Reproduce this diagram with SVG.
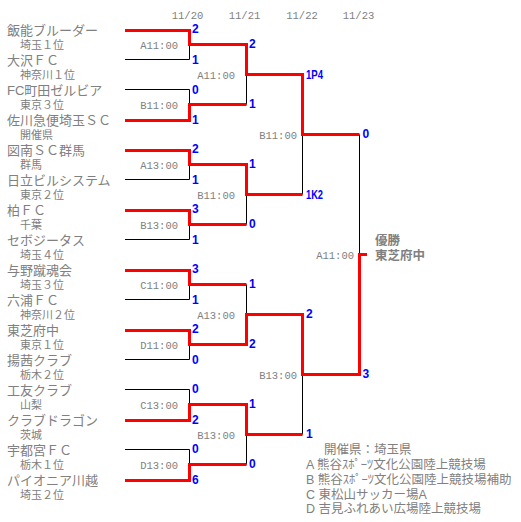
<svg xmlns="http://www.w3.org/2000/svg" width="521" height="522" viewBox="0 0 521 522">
<style>
.bg{fill:#ffffff}
.nm{font-family:"Liberation Sans","Noto Sans CJK JP",sans-serif;font-size:13px;fill:#808080}
.sb{font-family:"Liberation Sans","Noto Sans CJK JP",sans-serif;font-size:11px;fill:#808080}
.tm{font-family:"Liberation Mono",monospace;font-size:10.5px;fill:#808080;text-anchor:end}
.dt{font-family:"Liberation Mono",monospace;font-size:10.5px;fill:#808080;text-anchor:middle}
.sc{font-family:"Liberation Sans",sans-serif;font-size:12px;font-weight:bold;fill:#0000ff}
.win{fill:none;stroke:#ff0000;stroke-width:3;stroke-linejoin:miter}
.los{fill:none;stroke:#000000;stroke-width:1}
.wl{font-family:"Liberation Sans","Noto Sans CJK JP",sans-serif;font-size:12.5px;font-weight:bold;fill:#808080}
.lg{font-family:"Liberation Sans","Noto Sans CJK JP",sans-serif;font-size:12.5px;fill:#808080}
</style>
<rect class="bg" x="0" y="0" width="521" height="522"/>
<g id="dates">
<text class="dt" x="187.5" y="18.5">11/20</text>
<text class="dt" x="244.5" y="18.5">11/21</text>
<text class="dt" x="302" y="18.5">11/22</text>
<text class="dt" x="358.5" y="18.5">11/23</text>
</g>
<g id="teams">
<g id="t1"><text class="nm" x="7" y="35">飯能ブルーダー</text><text class="sb" x="20" y="49">埼玉１位</text></g>
<g id="t2"><text class="nm" x="7" y="65">大沢ＦＣ</text><text class="sb" x="20" y="79">神奈川１位</text></g>
<g id="t3"><text class="nm" x="7" y="95">FC町田ゼルビア</text><text class="sb" x="20" y="109">東京３位</text></g>
<g id="t4"><text class="nm" x="7" y="125">佐川急便埼玉ＳＣ</text><text class="sb" x="20" y="139">開催県</text></g>
<g id="t5"><text class="nm" x="7" y="155">図南ＳＣ群馬</text><text class="sb" x="20" y="169">群馬</text></g>
<g id="t6"><text class="nm" x="7" y="185">日立ビルシステム</text><text class="sb" x="20" y="199">東京２位</text></g>
<g id="t7"><text class="nm" x="7" y="215">柏ＦＣ</text><text class="sb" x="20" y="229">千葉</text></g>
<g id="t8"><text class="nm" x="7" y="245">セボジータス</text><text class="sb" x="20" y="259">埼玉４位</text></g>
<g id="t9"><text class="nm" x="7" y="275">与野蹴魂会</text><text class="sb" x="20" y="289">埼玉３位</text></g>
<g id="t10"><text class="nm" x="7" y="305">六浦ＦＣ</text><text class="sb" x="20" y="319">神奈川２位</text></g>
<g id="t11"><text class="nm" x="7" y="335">東芝府中</text><text class="sb" x="20" y="349">東京１位</text></g>
<g id="t12"><text class="nm" x="7" y="365">揚茜クラブ</text><text class="sb" x="20" y="379">栃木２位</text></g>
<g id="t13"><text class="nm" x="7" y="395">工友クラブ</text><text class="sb" x="20" y="409">山梨</text></g>
<g id="t14"><text class="nm" x="7" y="425">クラブドラゴン</text><text class="sb" x="20" y="439">茨城</text></g>
<g id="t15"><text class="nm" x="7" y="455">宇都宮ＦＣ</text><text class="sb" x="20" y="469">栃木１位</text></g>
<g id="t16"><text class="nm" x="7" y="485">パイオニア川越</text><text class="sb" x="20" y="499">埼玉２位</text></g>
</g>
<g id="connectors">
<path class="los" d="M125,59.5 H189.5 V44.5"/>
<path class="los" d="M125,89.5 H189.5 V104.5"/>
<path class="los" d="M125,179.5 H189.5 V164.5"/>
<path class="los" d="M125,239.5 H189.5 V224.5"/>
<path class="los" d="M125,299.5 H189.5 V284.5"/>
<path class="los" d="M125,359.5 H189.5 V344.5"/>
<path class="los" d="M125,389.5 H189.5 V404.5"/>
<path class="los" d="M125,449.5 H189.5 V464.5"/>
<path class="los" d="M246.5,104.5 V74.5"/>
<path class="los" d="M246.5,224.5 V194.5"/>
<path class="los" d="M246.5,284.5 V314.5"/>
<path class="los" d="M246.5,464.5 V434.5"/>
<path class="los" d="M302.5,194.5 V134.5"/>
<path class="los" d="M302.5,434.5 V374.5"/>
<path class="los" d="M359.5,134.5 V254.5"/>
<path class="win" d="M125,30.5 H189.5 V44.5 H246.5 V74.5 H302.5 V134.5 H359.5"/>
<path class="win" d="M125,120.5 H189.5 V104.5 H246.5"/>
<path class="win" d="M125,150.5 H189.5 V164.5 H246.5 V194.5 H302.5"/>
<path class="win" d="M125,210.5 H189.5 V224.5 H246.5"/>
<path class="win" d="M125,270.5 H189.5 V284.5 H246.5"/>
<path class="win" d="M125,330.5 H189.5 V344.5 H246.5 V314.5 H302.5 V374.5 H359.5 V254.5 H367"/>
<path class="win" d="M125,420.5 H189.5 V404.5 H246.5 V434.5 H302.5"/>
<path class="win" d="M125,480.5 H189.5 V464.5 H246.5"/>
</g>
<g id="matches">
<text class="tm" x="178" y="48.5">A11:00</text>
<text class="tm" x="178" y="108.5">B11:00</text>
<text class="tm" x="178" y="168.5">A13:00</text>
<text class="tm" x="178" y="228.5">B13:00</text>
<text class="tm" x="178" y="288.5">C11:00</text>
<text class="tm" x="178" y="348.5">D11:00</text>
<text class="tm" x="178" y="408.5">C13:00</text>
<text class="tm" x="178" y="468.5">D13:00</text>
<text class="tm" x="235" y="78.5">A11:00</text>
<text class="tm" x="235" y="198.5">B11:00</text>
<text class="tm" x="235" y="318.5">A13:00</text>
<text class="tm" x="235" y="438.5">B13:00</text>
<text class="tm" x="297" y="138.5">B11:00</text>
<text class="tm" x="297" y="378.5">B13:00</text>
<text class="tm" x="354" y="258.5">A11:00</text>
</g>
<g id="scores">
<text class="sc" x="192" y="33">2</text>
<text class="sc" x="192" y="64">1</text>
<text class="sc" x="192" y="94">0</text>
<text class="sc" x="192" y="124">1</text>
<text class="sc" x="192" y="153">2</text>
<text class="sc" x="192" y="184">1</text>
<text class="sc" x="192" y="213">3</text>
<text class="sc" x="192" y="244">1</text>
<text class="sc" x="192" y="273">3</text>
<text class="sc" x="192" y="304">1</text>
<text class="sc" x="192" y="333">2</text>
<text class="sc" x="192" y="364">0</text>
<text class="sc" x="192" y="393">0</text>
<text class="sc" x="192" y="424">2</text>
<text class="sc" x="192" y="453">0</text>
<text class="sc" x="192" y="484">6</text>
<text class="sc" x="249" y="48">2</text>
<text class="sc" x="249" y="108">1</text>
<text class="sc" x="249" y="168">1</text>
<text class="sc" x="249" y="228">0</text>
<text class="sc" x="249" y="288">1</text>
<text class="sc" x="249" y="348">2</text>
<text class="sc" x="249" y="408">1</text>
<text class="sc" x="249" y="468">0</text>
<text class="sc" x="306" y="78.5" textLength="17" lengthAdjust="spacingAndGlyphs">1P4</text>
<text class="sc" x="306" y="198.5" textLength="17" lengthAdjust="spacingAndGlyphs">1K2</text>
<text class="sc" x="306" y="318">2</text>
<text class="sc" x="306" y="438">1</text>
<text class="sc" x="362.5" y="138">0</text>
<text class="sc" x="362.5" y="378">3</text>
</g>
<g id="winner">
<text class="wl" x="375" y="245">優勝</text>
<text class="wl" x="375" y="260">東芝府中</text>
</g>
<g id="legend">
<text class="lg" x="324" y="454">開催県：埼玉県</text>
<text class="lg" x="306" y="469">A 熊谷ｽﾎﾟｰﾂ文化公園陸上競技場</text>
<text class="lg" x="306" y="484">B 熊谷ｽﾎﾟｰﾂ文化公園陸上競技場補助</text>
<text class="lg" x="306" y="499">C 東松山サッカー場A</text>
<text class="lg" x="306" y="513">D 吉見ふれあい広場陸上競技場</text>
</g>
</svg>
